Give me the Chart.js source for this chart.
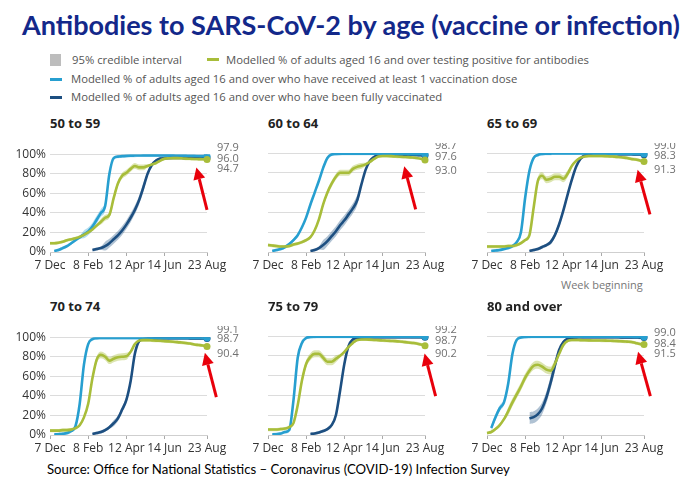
<!DOCTYPE html>
<html>
<head>
<meta charset="utf-8">
<script src="https://cdn.jsdelivr.net/npm/chart.js@4.4.1/dist/chart.umd.min.js"></script>
<style>
body{margin:0;width:693px;height:490px;background:#fff;position:relative;overflow:hidden;font-family:"Open Sans",sans-serif}
.abs{position:absolute;white-space:nowrap}
#title{left:22px;top:8px;font-family:Lato,sans-serif;font-weight:bold;font-size:27px;color:#13288a}
.leg{font-size:11.3px;color:#555;line-height:14px}
.ptitle{font-weight:bold;font-size:13px;color:#222;line-height:18px}
.box{position:absolute;width:235px;height:133px}
#source{left:47px;top:461px;font-family:Lato,sans-serif;font-size:13.2px;color:#000}
#week{left:561px;top:277px;font-size:11px;color:#777}
</style>
</head>
<body>
<div id="title" class="abs">Antibodies to SARS-CoV-2 by age (vaccine or infection)</div>

<div class="abs" style="left:50px;top:54px;width:11px;height:12px;background:#bdbdbd"></div>
<div class="abs leg" style="left:72px;top:53px">95% credible interval</div>
<div class="abs" style="left:207px;top:58px;width:12px;height:3px;background:#a8bd3a"></div>
<div class="abs leg" style="left:226px;top:53px">Modelled % of adults aged 16 and over testing positive for antibodies</div>
<div class="abs" style="left:50px;top:78px;width:12px;height:3px;background:#279fd0"></div>
<div class="abs leg" style="left:71px;top:72px">Modelled % of adults aged 16 and over who have received at least 1 vaccination dose</div>
<div class="abs" style="left:50px;top:96px;width:12px;height:3px;background:#1d4f81"></div>
<div class="abs leg" style="left:71px;top:90px">Modelled % of adults aged 16 and over who have been fully vaccinated</div>

<div id="week" class="abs">Week beginning</div>
<div id="source" class="abs">Source: Office for National Statistics – Coronavirus (COVID-19) Infection Survey</div>

<script>
const weeks = ['7 Dec','14 Dec','21 Dec','28 Dec','4 Jan','11 Jan','18 Jan','25 Jan','1 Feb','8 Feb','15 Feb','22 Feb','1 Mar','8 Mar','15 Mar','22 Mar','29 Mar','5 Apr','12 Apr','19 Apr','26 Apr','3 May','10 May','17 May','24 May','31 May','7 Jun','14 Jun','21 Jun','28 Jun','5 Jul','12 Jul','19 Jul','26 Jul','2 Aug','9 Aug','16 Aug','23 Aug']
const shownWeeks = ['7 Dec','8 Feb','12 Apr','14 Jun','23 Aug']
const yTicks = [0,20,40,60,80,100]

// at least one dose
const dose1_50_59 = [null,1,2,4,6,9,12,15,18,21,26,33,40,47,80,96,97.5,98,98.3,98.5,98.6,98.7,98.8,98.8,98.8,98.8,98.8,98.8,98.8,98.8,98.7,98.6,98.5,98.4,98.3,98.1,98,97.9]
const dose1_60_64 = [null,1,2,3,5,8,12,17,25,35,48,60,72,85,95,98.5,99,99.2,99.3,99.3,99.3,99.3,99.3,99.3,99.3,99.3,99.2,99.2,99.2,99.1,99.1,99,99,98.9,98.8,98.8,98.7,98.7]
const dose1_65_69 = [null,1,1.5,2,3,4,6,10,20,55,82,95,98,99,99.3,99.4,99.5,99.5,99.5,99.5,99.5,99.5,99.5,99.5,99.5,99.4,99.4,99.4,99.3,99.3,99.3,99.2,99.2,99.2,99.1,99.1,99,99]
const dose1_70_74 = [null,0.5,0.8,1.2,2,4,9,32,72,93,98,99,99.2,99.3,99.3,99.3,99.3,99.3,99.3,99.3,99.3,99.3,99.3,99.3,99.3,99.3,99.3,99.3,99.3,99.3,99.2,99.2,99.2,99.2,99.2,99.2,99.1,99.1]
const dose1_75_79 = [null,0.5,0.8,1.5,3,5,35,78,93,98,99,99.2,99.3,99.3,99.3,99.3,99.3,99.3,99.3,99.3,99.3,99.3,99.3,99.3,99.3,99.3,99.3,99.3,99.3,99.3,99.3,99.3,99.3,99.3,99.2,99.2,99.2,99.2]
const dose1_80_plus = [null,7,18,27,33,52,82,96,98.5,99,99.2,99.3,99.3,99.3,99.3,99.3,99.3,99.3,99.3,99.3,99.3,99.3,99.3,99.3,99.3,99.3,99.3,99.3,99.3,99.3,99.3,99.2,99.2,99.2,99.2,99.1,99,99]

// fully vaccinated
const full_50_59 = [null,null,null,null,null,null,null,null,null,null,2,3,4,6,9,13,17,22,28,35,43,53,66,80,89,93.5,95.5,96,96.2,96.3,96.3,96.3,96.2,96.2,96.1,96.1,96,96]
const full_60_64 = [null,null,null,null,null,null,null,null,null,null,1,2,4,7,11,16,21,27,32,38,44,52,68,83,92,96,98,98.5,98.6,98.6,98.6,98.5,98.4,98.3,98.2,98,97.8,97.6]
const full_65_69 = [null,null,null,null,null,null,null,null,null,null,1,2,3,5,7,10,17,28,42,58,73,86,94,97.5,98.5,98.8,99,99,99,99,99,98.9,98.9,98.8,98.7,98.6,98.5,98.3]
const full_70_74 = [null,null,null,null,null,null,null,null,null,null,1,2,3,5,8,12,17,26,36,55,83,96,98,98.5,98.7,98.8,98.9,99,99,99,99,98.9,98.9,98.8,98.8,98.8,98.7,98.7]
const full_75_79 = [null,null,null,null,null,null,null,null,null,null,1,1.5,2.5,4,6,10,20,45,72,90,96.5,98,98.5,98.7,98.8,98.9,98.9,98.9,98.9,98.9,98.9,98.8,98.8,98.8,98.8,98.7,98.7,98.7]
const full_80_plus = [null,null,null,null,null,null,null,null,null,null,17,18,21,27,38,53,70,86,94,97,98.3,98.6,98.7,98.8,98.8,98.8,98.8,98.8,98.8,98.7,98.7,98.7,98.6,98.6,98.5,98.5,98.4,98.4]

// testing positive for antibodies
const anti_50_59 = [9,9,9.5,10.5,12,13,14,15.5,17.5,20,23,27,31,35,38,55,70,78,81,85,88,86.5,86.5,88,89.5,91,93.5,95.5,95.8,96,96,95.8,95.5,95.3,95.1,95,94.9,94.7]
const anti_60_64 = [7,6.5,6,5.5,5.5,6,7.5,8.5,10,12,15,22,33,48,60,69,76,80,80,80,84,86,87,88.5,91,94,96.5,97,97,96.8,96.5,96.2,96,95.8,95.5,95,94.2,93]
const anti_65_69 = [5.5,5.5,5.5,5.5,5.5,6,6,7,9,12,17,45,72,77,73,74,76,76,74,79,87,92,95,96.5,97,97,97,97,96.8,96.5,96.3,96,95.5,95,94,93.5,92.5,91.3]
const anti_70_74 = [4.5,4.5,4.5,5,5,5.5,7,10,18,32,58,77,82,80,76,78,79.5,80,80.5,85,93,96.5,97,97,96.8,96.5,96.3,96,95.7,95.4,95,94.5,94,93.5,92.5,92,91.5,90.4]
const anti_75_79 = [5.5,5.5,5.5,6,6.5,8,12,30,55,72,79,82,82,78,74,74,77,80,84,89,93,96,96.5,96.5,96.3,96,95.8,95.5,95.2,95,94.8,94.5,94,93.5,93,92.5,91.5,90.2]
const anti_80_plus = [2,3,6,10,16,24,33,41,49,58,65,70,71,69,66,65,72,82,91,95,96,96,95.8,95.7,95.6,95.5,95.5,95.4,95.3,95.2,95,94.8,94.6,94.3,94,93,92,91.5]

// credible interval half-widths: [from week, to week, +/- points], 1.6 elsewhere
const ci_dose1_50_59 = [[8,13,4]]
const ci_full_50_59 = [[13,22,4.5]]
const ci_anti_50_59 = [[12,22,3]]
const ci_dose1_60_64 = []
const ci_full_60_64 = [[13,21,5]]
const ci_anti_60_64 = [[14,22,3]]
const ci_dose1_65_69 = []
const ci_full_65_69 = [[15,20,2.5]]
const ci_anti_65_69 = [[12,19,3.5]]
const ci_dose1_70_74 = []
const ci_full_70_74 = [[15,19,3]]
const ci_anti_70_74 = [[10,18,3.5]]
const ci_dose1_75_79 = []
const ci_full_75_79 = [[15,18,2]]
const ci_anti_75_79 = [[8,16,3.5]]
const ci_dose1_80_plus = [[1,5,3]]
const ci_full_80_plus = [[10,16,6]]
const ci_anti_80_plus = [[5,16,4]]

const DOSE1 = '#279fd0', FULL = '#1d4f81', ANTI = '#a8bd3a'
const DOSE1_BAND = 'rgba(39,159,208,0.35)', FULL_BAND = 'rgba(29,79,129,0.35)', ANTI_BAND = 'rgba(168,189,58,0.4)'

const panels = [
	{title:'50 to 59', left:50, top:153, showY:true, dose1:dose1_50_59, full:full_50_59, anti:anti_50_59, ci:[ci_dose1_50_59, ci_full_50_59, ci_anti_50_59], labelDy:[-6,4.6,14.6], arrow:[[37,43],[34.5,86.5]]},
	{title:'60 to 64', left:268, top:153, showY:false, dose1:dose1_60_64, full:full_60_64, anti:anti_60_64, ci:[ci_dose1_60_64, ci_full_60_64, ci_anti_60_64], labelDy:[-7,4,18], arrow:[[34.8,43],[32.1,86.5]]},
	{title:'65 to 69', left:487, top:153, showY:false, dose1:dose1_65_69, full:full_65_69, anti:anti_65_69, ci:[ci_dose1_65_69, ci_full_65_69, ci_anti_65_69], labelDy:[-7,3,17], arrow:[[38.4,38],[35.5,83]]},
	{title:'70 to 74', left:50, top:336, showY:true, dose1:dose1_70_74, full:full_70_74, anti:anti_70_74, ci:[ci_dose1_70_74, ci_full_70_74, ci_anti_70_74], labelDy:[-7.4,1.6,16.6], arrow:[[39.2,38.6],[36.5,84]]},
	{title:'75 to 79', left:268, top:336, showY:false, dose1:dose1_75_79, full:full_75_79, anti:anti_75_79, ci:[ci_dose1_75_79, ci_full_75_79, ci_anti_75_79], labelDy:[-6.5,5,18.3], arrow:[[39.5,39.3],[36.9,82.3]]},
	{title:'80 and over', left:487, top:336, showY:false, dose1:dose1_80_plus, full:full_80_plus, anti:anti_80_plus, ci:[ci_dose1_80_plus, ci_full_80_plus, ci_anti_80_plus], labelDy:[-3.4,7.6,17.6], arrow:[[38.5,39.3],[35.6,84]]}
]

function halfWidth(ranges, i) {
	for (const [a, b, w] of ranges) if (i >= a && i <= b) return w
	return 1.6
}

function bandSets(values, ranges) {
	const hi = values.map((v, i) => v == null ? null : Math.min(100, v + halfWidth(ranges, i)))
	const lo = values.map((v, i) => v == null ? null : Math.max(0, v - halfWidth(ranges, i)))
	return [hi, lo]
}

function lineSet(values, color, order) {
	const last = values.length - 1
	return {
		data: values, borderColor: color, backgroundColor: color, borderWidth: 2.6,
		pointRadius: (ctx) => ctx.dataIndex === last ? 3.5 : 0,
		pointBorderWidth: 0, cubicInterpolationMode: 'monotone', fill: false, order: order
	}
}

const endLabels = {
	id: 'endLabels',
	afterDatasetsDraw(chart, args, opts) {
		const {ctx, chartArea, scales} = chart
		ctx.save()
		ctx.font = '11px "Open Sans"'
		ctx.fillStyle = '#707070'
		ctx.textBaseline = 'middle'
		opts.values.forEach((v, k) => {
			ctx.fillText(v[v.length - 1].toFixed(1), chartArea.right + 10, chartArea.top + opts.dy[k])
		})
		// red arrow
		const [from, to] = opts.arrow
		const x1 = scales.x.getPixelForValue(from[0]), y1 = scales.y.getPixelForValue(from[1])
		const x2 = scales.x.getPixelForValue(to[0]), y2 = scales.y.getPixelForValue(to[1])
		const ang = Math.atan2(y2 - y1, x2 - x1)
		const hl = 12, hw = 6
		const bx = x2 - hl * Math.cos(ang), by = y2 - hl * Math.sin(ang)
		ctx.strokeStyle = '#e8000b'
		ctx.fillStyle = '#e8000b'
		ctx.lineWidth = 3
		ctx.beginPath(); ctx.moveTo(x1, y1); ctx.lineTo(bx, by); ctx.stroke()
		ctx.beginPath()
		ctx.moveTo(x2, y2)
		ctx.lineTo(bx + hw * Math.sin(ang), by - hw * Math.cos(ang))
		ctx.lineTo(bx - hw * Math.sin(ang), by + hw * Math.cos(ang))
		ctx.closePath(); ctx.fill()
		ctx.restore()
	}
}

panels.forEach((p) => {
	const t = document.createElement('div')
	t.className = 'abs ptitle'
	t.style.left = p.left + 'px'
	t.style.top = (p.top - 39) + 'px'
	t.textContent = p.title
	document.body.appendChild(t)

	const box = document.createElement('div')
	box.className = 'box'
	box.style.left = (p.left - 40) + 'px'
	box.style.top = (p.top - 10) + 'px'
	const cv = document.createElement('canvas')
	box.appendChild(cv)
	document.body.appendChild(box)

	const [dHi, dLo] = bandSets(p.dose1, p.ci[0])
	const [fHi, fLo] = bandSets(p.full, p.ci[1])
	const [aHi, aLo] = bandSets(p.anti, p.ci[2])
	const band = (data, color, fill) => ({data, borderWidth: 0, pointRadius: 0, backgroundColor: color, fill, cubicInterpolationMode: 'monotone', order: 10})

	new Chart(cv, {
		type: 'line',
		data: {
			labels: weeks,
			datasets: [
				lineSet(p.anti, ANTI, 0),
				lineSet(p.dose1, DOSE1, 1),
				lineSet(p.full, FULL, 2),
				band(dHi, DOSE1_BAND, false),
				band(dLo, DOSE1_BAND, 3),
				band(fHi, FULL_BAND, false),
				band(fLo, FULL_BAND, 5),
				band(aHi, ANTI_BAND, false),
				band(aLo, ANTI_BAND, 7)
			]
		},
		options: {
			responsive: true, maintainAspectRatio: false, animation: false,
			layout: {padding: {left: 0, right: 38, top: 10, bottom: 0}},
			plugins: {
				legend: {display: false}, tooltip: {enabled: false},
				endLabels: {values: [p.dose1, p.full, p.anti], dy: p.labelDy, arrow: p.arrow}
			},
			scales: {
				x: {
					type: 'category', offset: false,
					grid: {drawOnChartArea: false, drawTicks: true, tickLength: 4,
						color: (ctx) => shownWeeks.includes(weeks[ctx.index]) ? '#aaa' : 'rgba(0,0,0,0)'},
					border: {display: true, color: '#cfcfcf'},
					ticks: {autoSkip: false, maxRotation: 0, minRotation: 0, padding: 2, color: '#333', font: {family: 'Open Sans', size: 12},
						callback: (v) => shownWeeks.includes(weeks[v]) ? weeks[v] : ''},
					afterFit: (s) => { s.height = 24 }
				},
				y: {
					min: 0, max: 100,
					afterBuildTicks: (s) => { s.ticks = yTicks.map(v => ({value: v})) },
					grid: {color: '#dcdcdc', drawTicks: false},
					border: {display: false},
					ticks: {display: p.showY, padding: 4, color: '#333', font: {family: 'Open Sans', size: 12}, callback: (v) => v + '%'},
					afterFit: (s) => { s.width = 40 }
				}
			}
		},
		plugins: [endLabels]
	})
})
</script>
</body>
</html>
